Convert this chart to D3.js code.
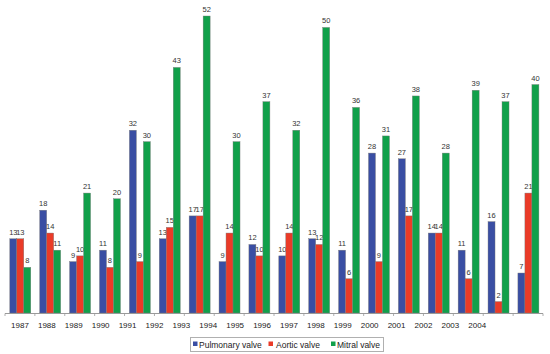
<!DOCTYPE html>
<html><head><meta charset="utf-8">
<script src="https://cdn.jsdelivr.net/npm/d3@7"></script>
<style>body{margin:0;background:#fff}svg{display:block}</style>
</head><body>
<svg id="c" width="550" height="354"></svg>
<script>
const years = ["1987","1988","1989","1990","1991","1992","1993","1994","1995","1996","1997","1998","1999","2000","2001","2002","2003","2004"];
const tickLabels = ["1987","1988","1989","1990","1991","1992","1993","1994","1995","1996","1997","1998","1999","2000","2001","2002","2003","2004","",""];
const seriesNames = ["Pulmonary valve","Aortic valve","Mitral valve"];
const pulmonary = [13,18,9,11,32,13,17,9,12,10,13,11,28,27,14,11,16,7];
const aortic    = [13,14,10,8,9,15,17,14,10,14,12,6,9,17,14,6,2,21];
const mitral    = [8,11,21,20,30,43,52,30,37,32,50,36,31,38,28,39,37,40];
const colors = ["#3a4ea3","#ea3b28","#11a04a"];

const series = [pulmonary, aortic, mitral];
const svg = d3.select("#c");
const x0 = d3.scaleBand().domain(years).range([5,543]).paddingInner(0);
const xl = d3.scaleBand().domain(tickLabels.map((d,i)=>i)).range([5,543]);
const x1 = d3.scaleBand().domain(seriesNames).range([4.8,25.8]);
const y = d3.scaleLinear().domain([0,52]).range([313,16]);
const font = "Liberation Sans, Arial, sans-serif";

const g = svg.append("g");
years.forEach((yr,i)=>{
  const grp = g.append("g").attr("transform",`translate(${x0(yr)},0)`);
  seriesNames.forEach((s,j)=>{
    const v = series[j][i];
    grp.append("rect").attr("x",x1(s)).attr("y",y(v))
      .attr("width",x1.bandwidth()).attr("height",313-y(v))
      .attr("fill",colors[j]).attr("stroke","#7a7a7a").attr("stroke-width",0.4);
    grp.append("text").attr("x",x1(s)+x1.bandwidth()/2).attr("y",y(v)-4)
      .attr("text-anchor","middle").attr("font-family",font)
      .attr("font-size",7.5).attr("fill","#333").text(v);
  });
});

// axis line and ticks
const ax = svg.append("g");
ax.append("line").attr("x1",5).attr("x2",543).attr("y1",313.5).attr("y2",313.5)
  .attr("stroke","#9a9a9a").attr("stroke-width",1);
const ticks = years.map(d=>x0(d)).concat([x0.range()[1]]);
ax.selectAll("line.t").data(ticks).enter().append("line")
  .attr("x1",d=>d).attr("x2",d=>d).attr("y1",313.5).attr("y2",316)
  .attr("stroke","#9a9a9a").attr("stroke-width",0.8);
ax.selectAll("text").data(tickLabels).enter().append("text")
  .attr("x",(d,i)=>xl(i)+xl.bandwidth()/2+1.5).attr("y",328)
  .attr("text-anchor","middle").attr("font-family",font)
  .attr("font-size",8).attr("fill","#222").text(d=>d);

// legend
const lg = svg.append("g");
lg.append("rect").attr("x",190.5).attr("y",337.5).attr("width",193).attr("height",14)
  .attr("fill","#fff").attr("stroke","#b0b0b0").attr("stroke-width",1);
const lx = [193, 268.5, 331];
const tx = [199, 276, 337];
seriesNames.forEach((s,j)=>{
  lg.append("rect").attr("x",lx[j]).attr("y",341.5).attr("width",4.5).attr("height",4.5).attr("fill",colors[j]);
  lg.append("text").attr("x",tx[j]).attr("y",347.5).attr("font-family",font)
    .attr("font-size",8.5).attr("fill","#222").text(s);
});
</script>
</body></html>
